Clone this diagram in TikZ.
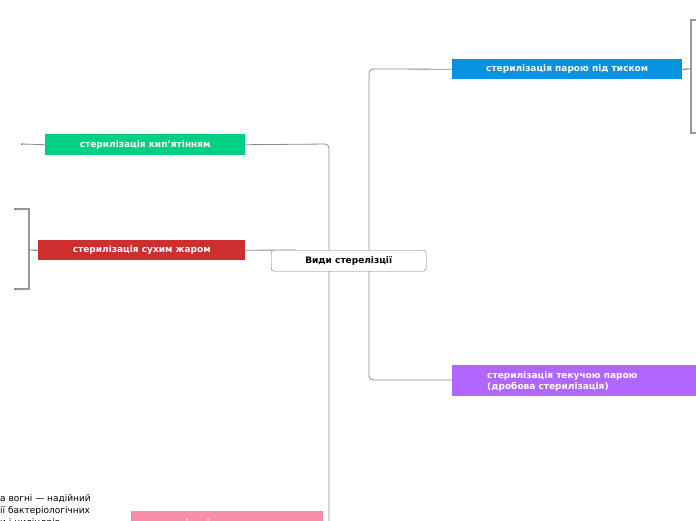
\documentclass[tikz,border=0pt]{standalone}
\usepackage{fontspec}
\setmainfont{DejaVu Sans}
\begin{document}
\begin{tikzpicture}[x=1pt,y=-1pt,
  topic/.style={draw=none,minimum height=20pt,text=white,font=\bfseries\fontsize{9}{11}\selectfont,inner sep=0pt,anchor=north west},
  conn/.style={draw=black!45,line width=0.8pt,rounded corners=4pt},
  brk/.style={draw=black!40,line width=1.2pt},
  dotc/.style={circle,fill=black!60,inner sep=0pt,minimum size=2pt}]
\definecolor{cblue}{HTML}{0693E3}
\definecolor{cgreen}{HTML}{00D084}
\definecolor{cred}{HTML}{CF2E2E}
\definecolor{cpurple}{HTML}{B166FF}
\definecolor{cpink}{HTML}{F78DA7}
\useasboundingbox (0,0) rectangle (696,520);
\begin{scope}
\clip (0,0) rectangle (696,520);
% topic nodes
\node[topic,fill=cblue,minimum width=230pt] (blue) at (452,59) {стерилізація парою під тиском};
\node[topic,fill=cgreen,minimum width=200pt,minimum height=21pt] (green) at (45,134) {стерилізація кип'ятінням};
\node[topic,fill=cred,minimum width=207pt] (red) at (38,240) {стерилізація сухим жаром};
\node[topic,fill=cpurple,minimum width=250pt,minimum height=31pt] (purple) at (452,365) {};
\node[topic,anchor=west,align=left,minimum height=0pt] (purpletxt) at (487,382) {стерилізація текучою парою\\(дробова стерилізація)};
\node[topic,fill=cpink,minimum width=192pt,minimum height=26pt] (pink) at (131,511) {стерилізація прожарюванням};
% coordinates
\coordinate (rtop) at (691,20);
\coordinate (rbot) at (691,133);
\coordinate (rmid) at (691,69);
\coordinate (ltop) at (29,209);
\coordinate (lbot) at (29,289);
\coordinate (lmid) at (29,250);
\coordinate (gend) at (22,144);
\coordinate (redend) at (296,250);
% connectors
\draw[conn] (blue.west) -- (369,69) -- (369,380) -- (purple.west |- 0,380);
\draw[conn] (green.east) -- (329,144) -- (329,530) -- (310,530);
\draw[conn] (red.east) -- (redend);
\draw[draw=black!70,line width=0.8pt] (blue.east) -- (rmid);
\draw[brk] (696,20) -- (rtop) -- (rbot) -- (696,133);
\draw[draw=black!60,line width=0.8pt] (red.west) -- (lmid);
\draw[brk] (15,209) -- (ltop) -- (lbot) -- (15,289);
\node[dotc] (d1) at (15,209) {};
\node[dotc] (d2) at (15,289) {};
\draw[conn] (green.west) -- (gend);
\node[dotc] (d3) at (gend) {};
% central node
\node[draw=black!55,fill=white,rounded corners=3pt,minimum width=155pt,minimum height=21pt,inner sep=0pt,font=\bfseries\fontsize{9}{11}\selectfont,anchor=north west] (root) at (271,250) {Види стерелізції};
% cut-off text
\node[anchor=north west,inner sep=0pt,align=left,font=\fontsize{9}{12}\selectfont] (txt) at (0,494) {а вогні — надійний\\ії бактеріологічних\\и і циліндрів};
\end{scope}
\end{tikzpicture}
\end{document}
